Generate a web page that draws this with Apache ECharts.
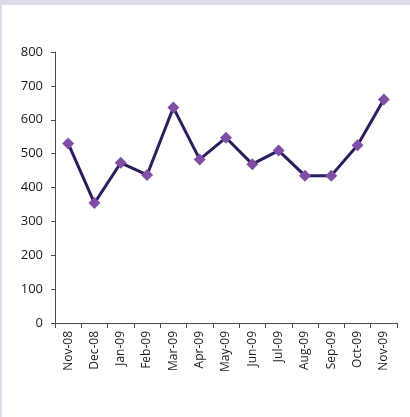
<!DOCTYPE html>
<html>
<head>
<meta charset="utf-8">
<script src="https://cdn.jsdelivr.net/npm/echarts@6/dist/echarts.min.js"></script>
<style>
  html, body { margin: 0; padding: 0; background: #ffffff; }
  #frame { position: absolute; left: 0; top: 0; width: 410px; height: 417px; box-sizing: border-box;
           border-top: 5px solid #dddaea; border-left: 2px solid #dddaea; }
  #chart { position: absolute; left: 0; top: 0; width: 410px; height: 417px; }
</style>
</head>
<body>
<div id="frame"></div>
<div id="chart"></div>
<script>
// Monthly figures, Nov 2008 – Nov 2009
const months = ['Nov-08','Dec-08','Jan-09','Feb-09','Mar-09','Apr-09','May-09','Jun-09','Jul-09','Aug-09','Sep-09','Oct-09','Nov-09'];
const values = [530, 354, 473, 437, 636, 483, 547, 469, 509, 435, 435, 525, 660];
const yTicks = { min: 0, max: 800, interval: 100 };

const chart = echarts.init(document.getElementById('chart'), null, { renderer: 'canvas' });
const axisCol = '#4a4a4a';
const font = 'Open Sans, sans-serif';

chart.setOption({
  animation: false,
  grid: { left: 55, right: 13, top: 52, bottom: 94, containLabel: false },
  xAxis: {
    type: 'category',
    data: months,
    boundaryGap: true,
    axisLine: { lineStyle: { color: axisCol, width: 1 } },
    axisTick: { show: true, length: 5, alignWithLabel: false, lineStyle: { color: axisCol } },
    axisLabel: { rotate: 90, interval: 0, margin: 8, color: '#1a1a1a', fontSize: 12, fontFamily: font },
    splitLine: { show: false }
  },
  yAxis: {
    type: 'value',
    min: yTicks.min, max: yTicks.max, interval: yTicks.interval,
    axisLine: { show: true, lineStyle: { color: axisCol, width: 1 } },
    axisTick: { show: true, length: 4, lineStyle: { color: axisCol } },
    axisLabel: { margin: 12, color: '#1a1a1a', fontSize: 13, fontFamily: font },
    splitLine: { show: false }
  },
  series: [{
    type: 'line',
    data: values,
    symbol: 'diamond',
    symbolSize: 12,
    lineStyle: { color: '#2e1c5c', width: 3 },
    itemStyle: { color: '#7f4fa6' },
    z: 3
  }]
});
</script>
</body>
</html>
